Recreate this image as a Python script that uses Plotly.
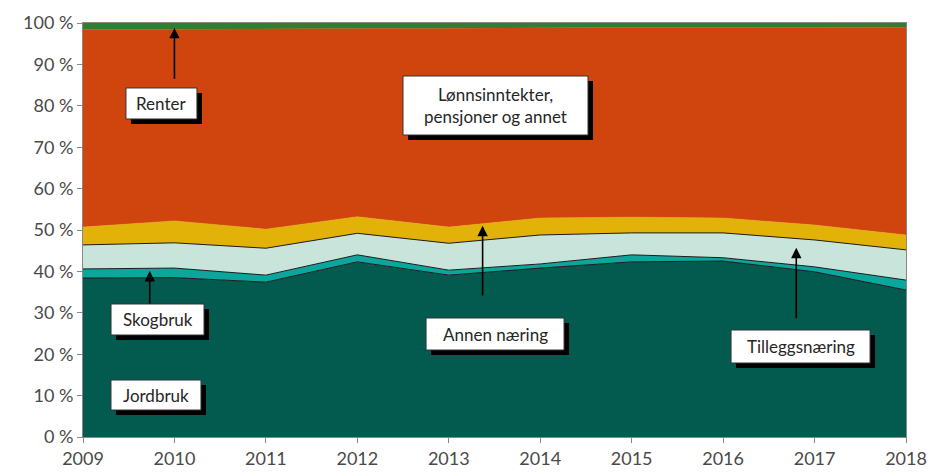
import plotly.graph_objects as go

years = [2009, 2010, 2011, 2012, 2013, 2014, 2015, 2016, 2017, 2018]

## andel av inntekt, prosent ##
jordbruk = [38.4, 38.5, 37.4, 42.3, 39.1, 40.8, 42.3, 42.5, 39.9, 35.5]
skogbruk = [2.2, 2.3, 1.7, 1.7, 1.2, 1.0, 1.7, 0.8, 1.2, 2.4]
tillegg = [5.8, 6.1, 6.5, 5.2, 6.5, 7.0, 5.3, 6.0, 6.5, 7.3]
annen = [4.3, 5.3, 4.6, 4.0, 3.9, 4.1, 3.8, 3.6, 3.6, 3.6]
lonn = [47.7, 46.3, 48.4, 45.5, 48.0, 45.9, 45.8, 46.0, 47.8, 50.2]
renter = [1.6, 1.5, 1.4, 1.3, 1.3, 1.2, 1.1, 1.1, 1.0, 1.0]

y_ticks = [0, 10, 20, 30, 40, 50, 60, 70, 80, 90, 100]
y_labels = [str(v) + " %" for v in y_ticks]

series = [("Jordbruk", jordbruk, "#035A4E", 1),
          ("Skogbruk", skogbruk, "#0BA79C", 1),
          ("Tilleggsnæring", tillegg, "#C9E5DB", 1),
          ("Annen næring", annen, "#E2B208", 0),
          ("Lønnsinntekter, pensjoner og annet", lonn, "#D0450E", 0),
          ("Renter", renter, "#2F7F30", 0)]

fig = go.Figure()
for name, vals, col, lw in series:
    fig.add_trace(go.Scatter(x=years, y=vals, name=name, stackgroup="one", mode="lines",
                             fillcolor=col,
                             line=dict(color="#1a1a1a" if lw else col, width=lw if lw else 0.5)))

## labels: text, x, y, box width/height in px ##
labels = [("Renter", 2009.858, 80.56, 71, 31),
          ("Lønnsinntekter,<br>pensjoner og annet", 2013.511, 80.07, 185, 59),
          ("Skogbruk", 2009.815, 28.38, 93, 31),
          ("Jordbruk", 2009.798, 10.14, 90, 30),
          ("Annen næring", 2013.506, 24.88, 138, 32),
          ("Tilleggsnæring", 2016.847, 21.86, 139, 33)]

arrows = [(2010.0, 86.2, 98.8),
          (2009.73, 31.9, 40.1),
          (2013.37, 33.8, 51.0),
          (2016.8, 28.3, 45.7)]

for x, y0, y1 in arrows:
    fig.add_annotation(x=x, y=y1, ax=x, ay=y0, xref="x", yref="y", axref="x", ayref="y",
                       showarrow=True, arrowhead=2, arrowsize=1.3, arrowwidth=1.6,
                       arrowcolor="black", text="")

sh = 5
for txt, x, y, w, h in labels:
    # shadow
    fig.add_shape(type="rect", xref="x", yref="y", xsizemode="pixel", ysizemode="pixel",
                  xanchor=x, yanchor=y, x0=-w / 2 + sh, x1=w / 2 + sh, y0=-h / 2 - sh, y1=h / 2 - sh,
                  fillcolor="black", line=dict(width=0), layer="above")
    fig.add_shape(type="rect", xref="x", yref="y", xsizemode="pixel", ysizemode="pixel",
                  xanchor=x, yanchor=y, x0=-w / 2, x1=w / 2, y0=-h / 2, y1=h / 2,
                  fillcolor="white", line=dict(color="#333333", width=1), layer="above")
    fig.add_annotation(x=x, y=y, text=txt, showarrow=False,
                       font=dict(family="Lato", size=17, color="#262626"))

fig.update_xaxes(range=[2009, 2018], tickvals=years, ticks="outside", ticklen=5,
                 tickcolor="#888888", showgrid=False, showline=True, linecolor="#888888",
                 linewidth=1, mirror=True, zeroline=False, automargin=False,
                 tickfont=dict(family="Lato", size=18, color="#4a4a4a"))
fig.update_yaxes(range=[0, 100], tickvals=y_ticks, ticktext=y_labels, ticks="outside",
                 ticklen=5, tickcolor="#888888", showgrid=False, showline=True,
                 linecolor="#888888", linewidth=1, mirror=True, zeroline=False, automargin=False,
                 tickfont=dict(family="Lato", size=18, color="#4a4a4a"))

fig.update_layout(width=930, height=476, showlegend=False,
                  margin=dict(l=83, r=24, t=23, b=39),
                  plot_bgcolor="white", paper_bgcolor="white")

# drop the default 8px body margin so the figure sits at the window corner
fig.write_html("out.html", config={"displayModeBar": False},
               post_script="document.body.style.margin='0';document.body.style.overflow='hidden';")
